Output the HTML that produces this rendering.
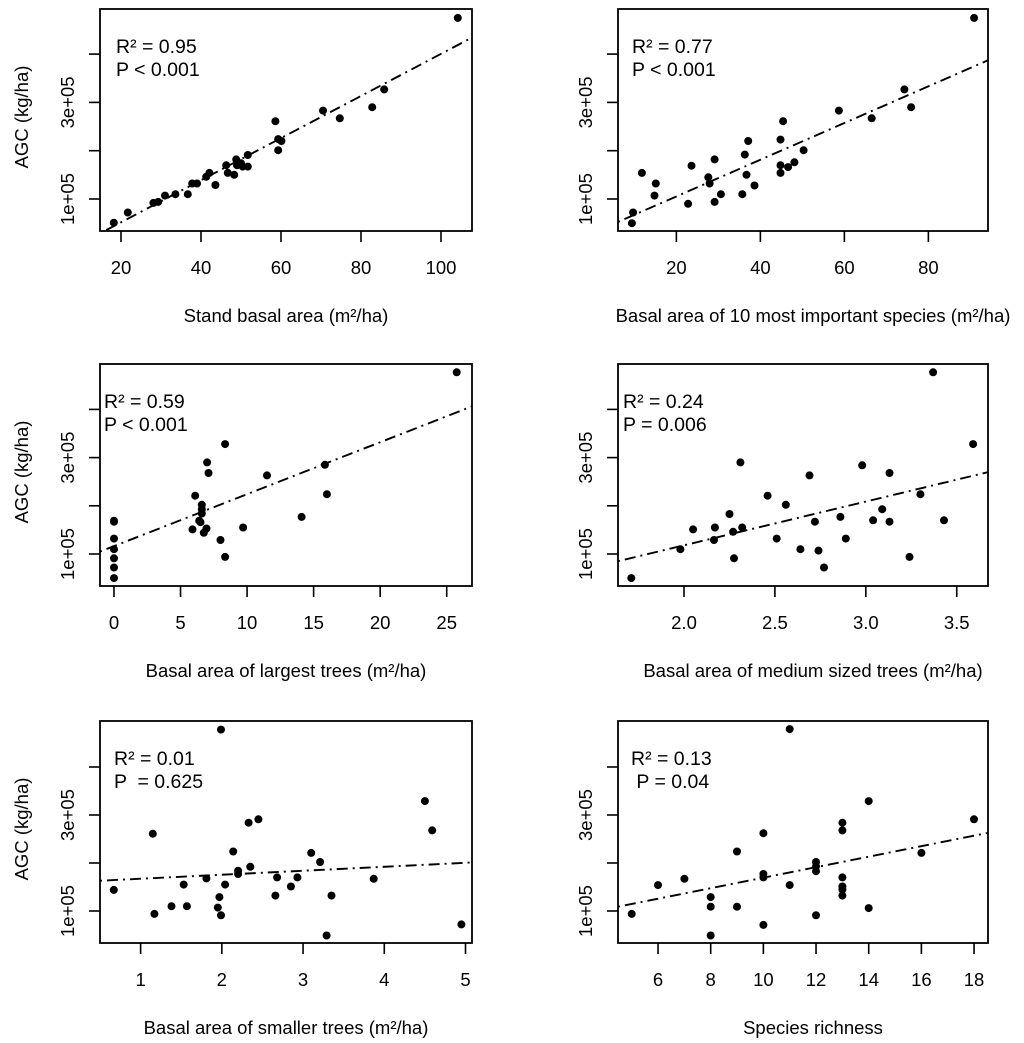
<!DOCTYPE html>
<html><head><meta charset="utf-8"><title>AGC scatter panels</title>
<style>
html,body{margin:0;padding:0;background:#fff;}
svg{display:block;font-family:"Liberation Sans",Arial,sans-serif;}
</style></head>
<body>
<svg id="fig" width="1024" height="1043" viewBox="0 0 1024 1043" xmlns="http://www.w3.org/2000/svg"></svg>
<script>
// AGC values in units of 1e5 kg/ha
const p1x=[18.2,21.7,28.1,29.3,31,33.6,36.7,37.8,39,41.3,42.1,43.6,46.3,46.7,48.3,48.8,49,50,50.4,51.7,51.7,58.6,59.3,60.1,59.3,70.5,74.7,82.8,85.8,104.2];
const p1y=[0.51,0.72,0.92,0.94,1.07,1.10,1.10,1.32,1.32,1.46,1.54,1.29,1.70,1.54,1.50,1.82,1.70,1.74,1.67,1.91,1.67,2.61,2.24,2.20,2.01,2.83,2.67,2.90,3.27,4.75];
const p2x=[9.4,9.7,11.8,15.1,14.8,22.8,23.6,27.6,27.9,29.1,29.1,30.6,35.7,36.3,36.7,37.1,38.6,44.8,44.8,44.8,45.4,46.6,48.1,50.3,58.7,66.5,74.3,75.9,90.9];
const p2y=[0.50,0.72,1.54,1.32,1.07,0.90,1.69,1.45,1.32,1.82,0.94,1.10,1.10,1.92,1.50,2.20,1.28,2.23,1.70,1.54,2.61,1.66,1.76,2.01,2.83,2.67,3.27,2.90,4.75];
const p3x=[0,0,0,0,0,0,0,6.1,5.9,6.4,6.5,6.6,6.6,6.6,6.75,6.95,7.0,7.1,8.0,8.35,8.35,9.7,11.5,14.1,15.85,16.0,25.75];
const p3y=[1.69,1.67,1.32,1.10,0.91,0.72,0.50,2.21,1.51,1.69,1.66,2.02,1.93,1.84,1.44,1.53,2.90,2.68,1.29,3.28,0.94,1.55,2.63,1.77,2.85,2.24,4.77];
const p4x=[1.71,1.98,2.05,2.165,2.17,2.25,2.27,2.275,2.32,2.31,2.46,2.51,2.56,2.64,2.69,2.72,2.74,2.77,2.86,2.89,2.98,3.04,3.09,3.13,3.13,3.24,3.30,3.37,3.43,3.59];
const p4y=[0.50,1.10,1.51,1.29,1.55,1.83,1.46,0.91,1.55,2.90,2.21,1.32,2.02,1.10,2.63,1.67,1.07,0.72,1.77,1.32,2.84,1.70,1.93,2.68,1.67,0.94,2.24,4.77,1.70,3.28];
const p5x=[0.67,1.15,1.17,1.38,1.53,1.57,1.81,1.95,1.97,1.99,1.99,2.04,2.14,2.20,2.20,2.33,2.35,2.45,2.66,2.68,2.85,2.93,3.10,3.21,3.29,3.35,3.87,4.50,4.59,4.95];
const p5y=[1.44,2.61,0.94,1.10,1.55,1.10,1.68,1.07,1.29,0.91,4.78,1.55,2.24,1.84,1.77,2.84,1.92,2.91,1.32,1.70,1.51,1.70,2.21,2.02,0.49,1.32,1.67,3.29,2.68,0.72];
const p6x=[5,6,7,8,8,8,9,9,10,10,10,10,11,11,12,12,12,12,13,13,13,13,13,13,14,14,16,18];
const p6y=[0.94,1.54,1.67,1.29,1.09,0.49,2.24,1.09,2.62,1.77,1.70,0.71,4.79,1.54,2.02,1.93,1.83,0.91,2.84,2.68,1.70,1.51,1.45,1.32,3.29,1.06,2.21,2.91];
// regression [intercept, slope]
const fit1=[-0.355,0.0436], fit2=[0.293,0.0380], fit3=[1.163,0.1078], fit4=[-0.636,0.908], fit5=[1.589,0.083], fit6=[0.600,0.1094];
const xt1=[20,40,60,80,100], xt2=[20,40,60,80], xt3=[0,5,10,15,20,25], xt4=[2.0,2.5,3.0,3.5], xt5=[1,2,3,4,5], xt6=[6,8,10,12,14,16,18];
const xtl4=["2.0","2.5","3.0","3.5"];
const yTicks=[1,2,3,4];
const yTickLabels=["1e+05","","3e+05",""];
const titles=["Stand basal area (m²/ha)","Basal area of 10 most important species (m²/ha)","Basal area of largest trees (m²/ha)","Basal area of medium sized trees (m²/ha)","Basal area of smaller trees (m²/ha)","Species richness"];
const stats=[["R² = 0.95","P < 0.001"],["R² = 0.77","P < 0.001"],["R² = 0.59","P < 0.001"],["R² = 0.24","P = 0.006"],["R² = 0.01","P  = 0.625"],["R² = 0.13"," P = 0.04"]];

const NS="http://www.w3.org/2000/svg";
const svg=document.getElementById('fig');
function mk(tag,attrs,parent){const e=document.createElementNS(NS,tag);for(const k in attrs)e.setAttribute(k,attrs[k]);(parent||svg).appendChild(e);return e;}

const rows=[{top:9,bot:231,y1:199,s:48.3},{top:364,bot:586,y1:554,s:48.2},{top:721,bot:943,y1:911,s:48.0}];
const cols=[{l:100,r:472},{l:618,r:988}];
const panels=[
 {x:p1x,y:p1y,fit:fit1,xt:xt1,xd:[14.75,107.75],row:0,col:0,tx:16,yl:true},
 {x:p2x,y:p2y,fit:fit2,xt:xt2,xd:[6.1,94.2],row:0,col:1,tx:14},
 {x:p3x,y:p3y,fit:fit3,xt:xt3,xd:[-1.05,26.9],row:1,col:0,tx:4,yl:true},
 {x:p4x,y:p4y,fit:fit4,xt:xt4,xtl:xtl4,xd:[1.637,3.672],row:1,col:1,tx:5},
 {x:p5x,y:p5y,fit:fit5,xt:xt5,xd:[0.50,5.08],row:2,col:0,tx:14,yl:true},
 {x:p6x,y:p6y,fit:fit6,xt:xt6,xd:[4.48,18.53],row:2,col:1,tx:13}
];

panels.forEach((p,i)=>{
  const R=rows[p.row], C=cols[p.col];
  const sx=v=>C.l+(v-p.xd[0])/(p.xd[1]-p.xd[0])*(C.r-C.l);
  const sy=v=>R.y1-(v-1)*R.s;
  const g=mk('g',{});
  
  
  const cp=mk('clipPath',{id:'clip'+i},g);
  mk('rect',{x:C.l,y:R.top,width:C.r-C.l,height:R.bot-R.top},cp);
  const pts=mk('g',{},g);
  
  
  p.x.forEach((xv,j)=>{
    const c=mk('circle',{cx:sx(xv).toFixed(1),cy:sy(p.y[j]).toFixed(1),r:4,fill:'#000'},pts);
    
    
  });
  const x0=p.xd[0], x1=p.xd[1];
  const ln=mk('line',{x1:sx(x0),y1:sy(p.fit[0]+p.fit[1]*x0),x2:sx(x1),y2:sy(p.fit[0]+p.fit[1]*x1),stroke:'#000','stroke-width':1.9,'stroke-dasharray':'2,5,11,5','clip-path':'url(#clip'+i+')'},g);
  
  
  const bx=mk('rect',{x:C.l,y:R.top,width:C.r-C.l,height:R.bot-R.top,fill:'none',stroke:'#000','stroke-width':1.8},g);
  
  
  const xa=mk('g',{},g);
  
  
  p.xt.forEach((t,j)=>{
    const X=sx(t);
    mk('line',{x1:X,y1:R.bot,x2:X,y2:R.bot+11,stroke:'#000','stroke-width':1.6},xa);
    const tl=mk('text',{x:X,y:R.bot+43,'text-anchor':'middle','font-size':18.5,fill:'#000'},xa);
    tl.textContent=p.xtl?p.xtl[j]:String(t);
    
    
  });
  const xtit=mk('text',{x:(C.l+C.r)/2+(p.col===1?10:0),y:R.bot+91,'text-anchor':'middle','font-size':18.5,fill:'#000'},g);
  xtit.textContent=titles[i];
  
  
  const ya=mk('g',{},g);
  
  
  yTicks.forEach((t,j)=>{
    const Y=sy(t);
    mk('line',{x1:C.l-11,y1:Y,x2:C.l,y2:Y,stroke:'#000','stroke-width':1.6},ya);
    if(yTickLabels[j]){
      const lx=C.l-26;
      const tl=mk('text',{x:lx,y:Y,'text-anchor':'middle','font-size':18.5,fill:'#000',transform:'rotate(-90 '+lx+' '+Y+')'},ya);
      tl.textContent=yTickLabels[j];
      
      
    }
  });
  if(p.yl){
    const cy=(R.top+R.bot)/2-3, cx=28;
    const yt=mk('text',{x:cx,y:cy,'text-anchor':'middle','font-size':18.5,fill:'#000',transform:'rotate(-90 '+cx+' '+cy+')'},g);
    yt.textContent='AGC (kg/ha)';
    
    
  }
  stats[i].forEach((s,k)=>{
    const t=mk('text',{x:C.l+p.tx,y:R.top+44+k*23,'font-size':19.5,fill:'#000','xml:space':'preserve'},g);
    t.textContent=s;
    t.style.whiteSpace='pre';
    
    
  });
});
</script>
</body></html>
